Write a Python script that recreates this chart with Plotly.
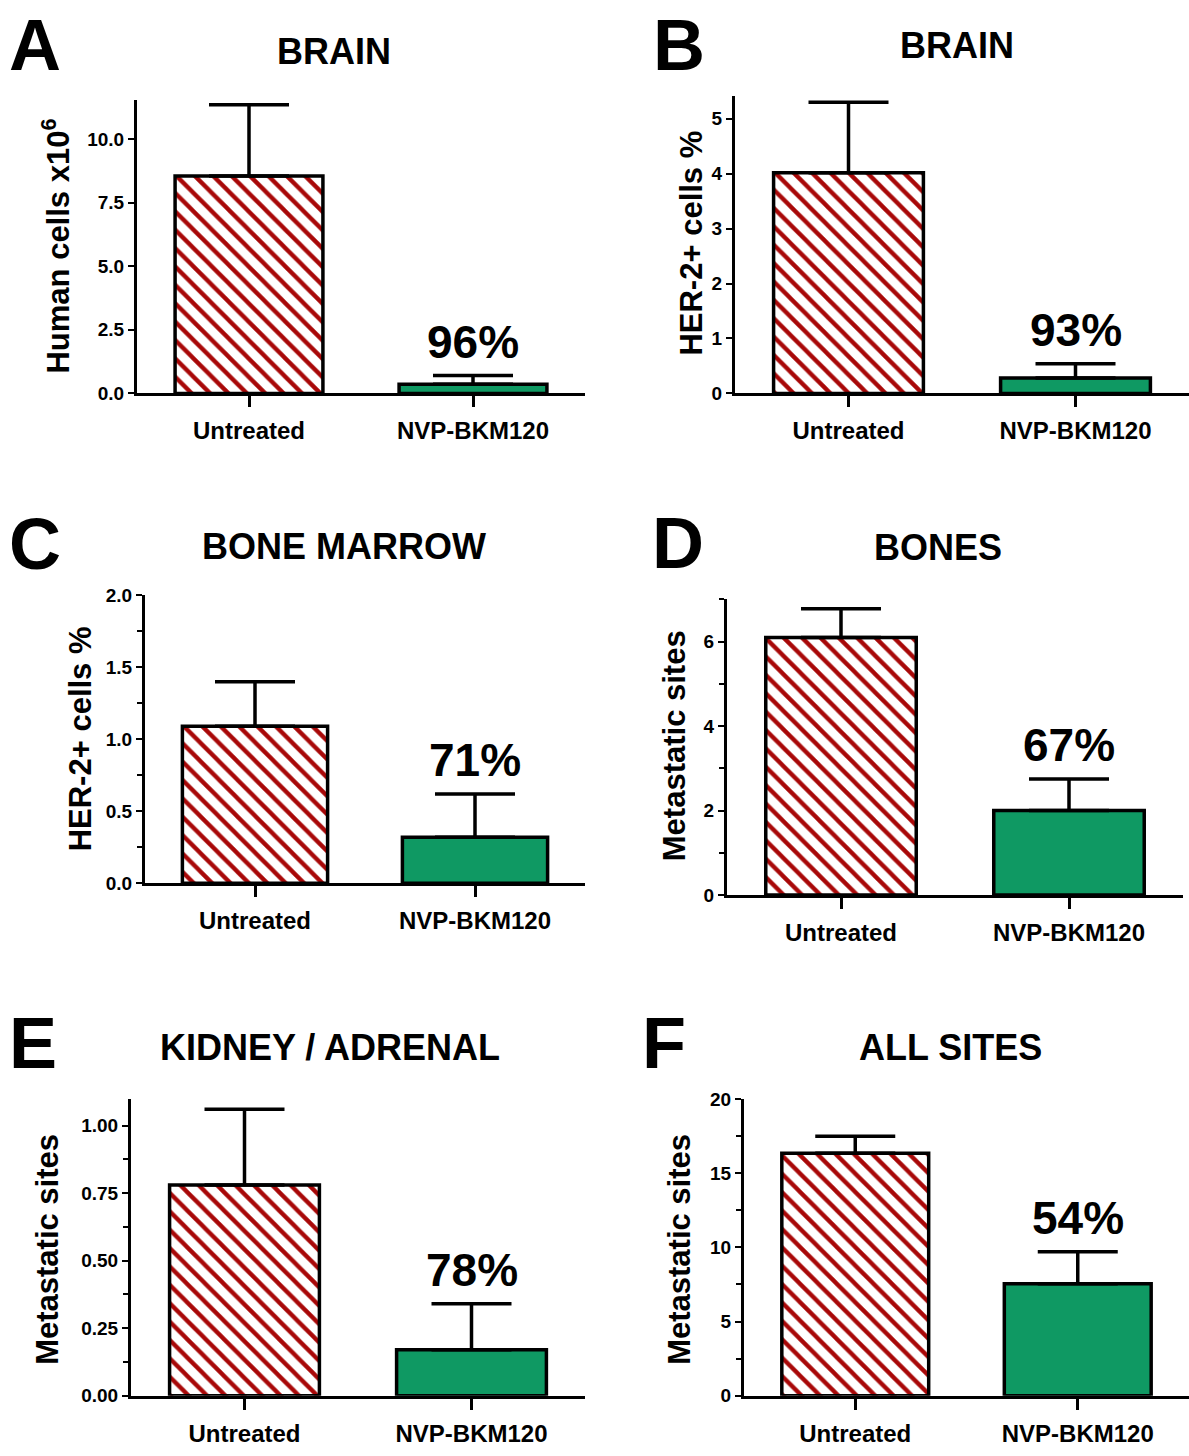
import plotly.graph_objects as go

W, H = 1189, 1456

categories = ["Untreated", "NVP-BKM120"]

# panel data: means and upper error (SEM)
means_A = [8.55, 0.36]
err_A = [2.80, 0.34]
means_B = [4.02, 0.28]
err_B = [1.28, 0.26]
means_C = [1.09, 0.32]
err_C = [0.31, 0.30]
means_D = [6.10, 2.00]
err_D = [0.68, 0.75]
means_E = [0.78, 0.17]
err_E = [0.28, 0.17]
means_F = [16.35, 7.55]
err_F = [1.15, 2.15]

titles = ["BRAIN", "BRAIN", "BONE MARROW", "BONES", "KIDNEY / ADRENAL", "ALL SITES"]
letters = ["A", "B", "C", "D", "E", "F"]
ylabels = ["Human cells x10<sup>6</sup>", "HER-2+ cells %", "HER-2+ cells %",
           "Metastatic sites", "Metastatic sites", "Metastatic sites"]
reductions = ["96%", "93%", "71%", "67%", "78%", "54%"]

FONT = "Liberation Sans, Arial, sans-serif"
RED = "#a80808"
GREEN = "#0f9963"

def px(x):
    return x / W

def py(y):
    return 1 - y / H

# layout geometry (pixel positions)
panels = [
    dict(means=means_A, err=err_A, xd=(137, 585), yd=(91, 389), yr=[0, 11.55], dtick=2.5, fmt=".1f", minor=None,
         title=(334, 42), letter=(35, 36), ylab=(56, 240)),
    dict(means=means_B, err=err_B, xd=(735, 1189), yd=(87, 389), yr=[0, 5.42], dtick=1, fmt="d", minor=None,
         title=(957, 36), letter=(679, 36), ylab=(692, 237)),
    dict(means=means_C, err=err_C, xd=(145, 585), yd=(594, 886), yr=[0, 2.0], dtick=0.5, fmt=".1f", minor=0.25,
         title=(344, 544), letter=(35, 542), ylab=(80, 740)),
    dict(means=means_D, err=err_D, xd=(727, 1183), yd=(598, 898), yr=[0, 7.0], dtick=2, fmt="d", minor=1,
         title=(938, 545), letter=(678, 541), ylab=(674, 747)),
    dict(means=means_E, err=err_E, xd=(131, 585), yd=(1105, 1406), yr=[0, 1.098], dtick=0.25, fmt=".2f", minor=0.125,
         title=(330, 1053), letter=(33, 1048), ylab=(48, 1258)),
    dict(means=means_F, err=err_F, xd=(744, 1189), yd=(1105, 1406), yr=[0, 20], dtick=5, fmt="d", minor=2.5,
         title=(950, 1053), letter=(664, 1048), ylab=(680, 1258)),
]

fig = go.Figure()
annotations = []
layout = dict(
    width=W, height=H, margin=dict(l=0, r=0, t=0, b=0),
    plot_bgcolor="white", paper_bgcolor="white", showlegend=False,
    font=dict(family=FONT, color="black"),
    barmode="overlay",
)

for i, p in enumerate(panels):
    n = "" if i == 0 else str(i + 1)
    xa, ya = "x" + n, "y" + n
    # untreated (hatched)
    fig.add_trace(go.Bar(
        x=[categories[0]], y=[p["means"][0]], xaxis=xa, yaxis=ya, width=0.66,
        marker=dict(
            color="white",
            line=dict(color="black", width=3.5),
            pattern=dict(shape="\\", fgcolor=RED, bgcolor="white", fgopacity=1,
                         size=13, solidity=0.33),
        ),
        error_y=dict(type="data", symmetric=False, array=[p["err"][0]], arrayminus=[0],
                     color="black", thickness=3.5, width=40),
        hoverinfo="skip",
    ))
    # treated (solid green)
    fig.add_trace(go.Bar(
        x=[categories[1]], y=[p["means"][1]], xaxis=xa, yaxis=ya, width=0.66,
        marker=dict(color=GREEN, line=dict(color="black", width=3.5)),
        error_y=dict(type="data", symmetric=False, array=[p["err"][1]], arrayminus=[0],
                     color="black", thickness=3.5, width=40),
        hoverinfo="skip",
    ))
    layout["xaxis" + n] = dict(
        domain=[px(p["xd"][0]), px(p["xd"][1])], anchor=ya, range=[-0.5, 1.5],
        type="category", categoryorder="array", categoryarray=categories,
        showline=True, linewidth=3, linecolor="black", showgrid=False, zeroline=False,
        ticks="outside", ticklen=11, tickwidth=3, tickcolor="black",
        tickfont=dict(family=FONT, size=24, weight="bold", color="black"),
        ticklabelstandoff=3, fixedrange=True,
    )
    ya_d = dict(
        domain=[py(p["yd"][1]), py(p["yd"][0])], anchor=xa, range=p["yr"],
        showline=True, linewidth=3, linecolor="black", showgrid=False, zeroline=False,
        ticks="outside", ticklen=6, tickwidth=2, tickcolor="black",
        tick0=0, dtick=p["dtick"],
        tickfont=dict(family=FONT, size=19, weight="bold", color="black"),
        fixedrange=True,
    )
    if p["fmt"] != "d":
        ya_d["tickformat"] = p["fmt"]
    if p["minor"]:
        ya_d["minor"] = dict(ticks="outside", dtick=p["minor"], tick0=0, ticklen=5, tickwidth=2, tickcolor="black")
    layout["yaxis" + n] = ya_d

    annotations.append(dict(text=titles[i], x=px(p["title"][0]), y=py(p["title"][1]), xref="paper", yref="paper",
                            showarrow=False, xanchor="center", yanchor="middle",
                            font=dict(family=FONT, size=36, weight="bold")))
    annotations.append(dict(text=letters[i], x=px(p["letter"][0]), y=py(p["letter"][1]), xref="paper", yref="paper",
                            showarrow=False, xanchor="center", yanchor="middle",
                            font=dict(family=FONT, size=72, weight="bold")))
    annotations.append(dict(text=ylabels[i], x=px(p["ylab"][0]), y=py(p["ylab"][1]), xref="paper", yref="paper",
                            showarrow=False, xanchor="center", yanchor="middle", textangle=-90,
                            font=dict(family=FONT, size=31, weight="bold")))
    annotations.append(dict(text=reductions[i], x=categories[1], y=p["means"][1] + p["err"][1],
                            xref=xa, yref=ya, showarrow=False, xanchor="center", yanchor="middle",
                            yshift=34, font=dict(family=FONT, size=46, weight="bold")))

layout["annotations"] = annotations
fig.update_layout(**layout)
fig.write_html("out.html", config={"displayModeBar": False},
               post_script="document.body.style.margin='0';document.body.style.overflow='hidden';")
